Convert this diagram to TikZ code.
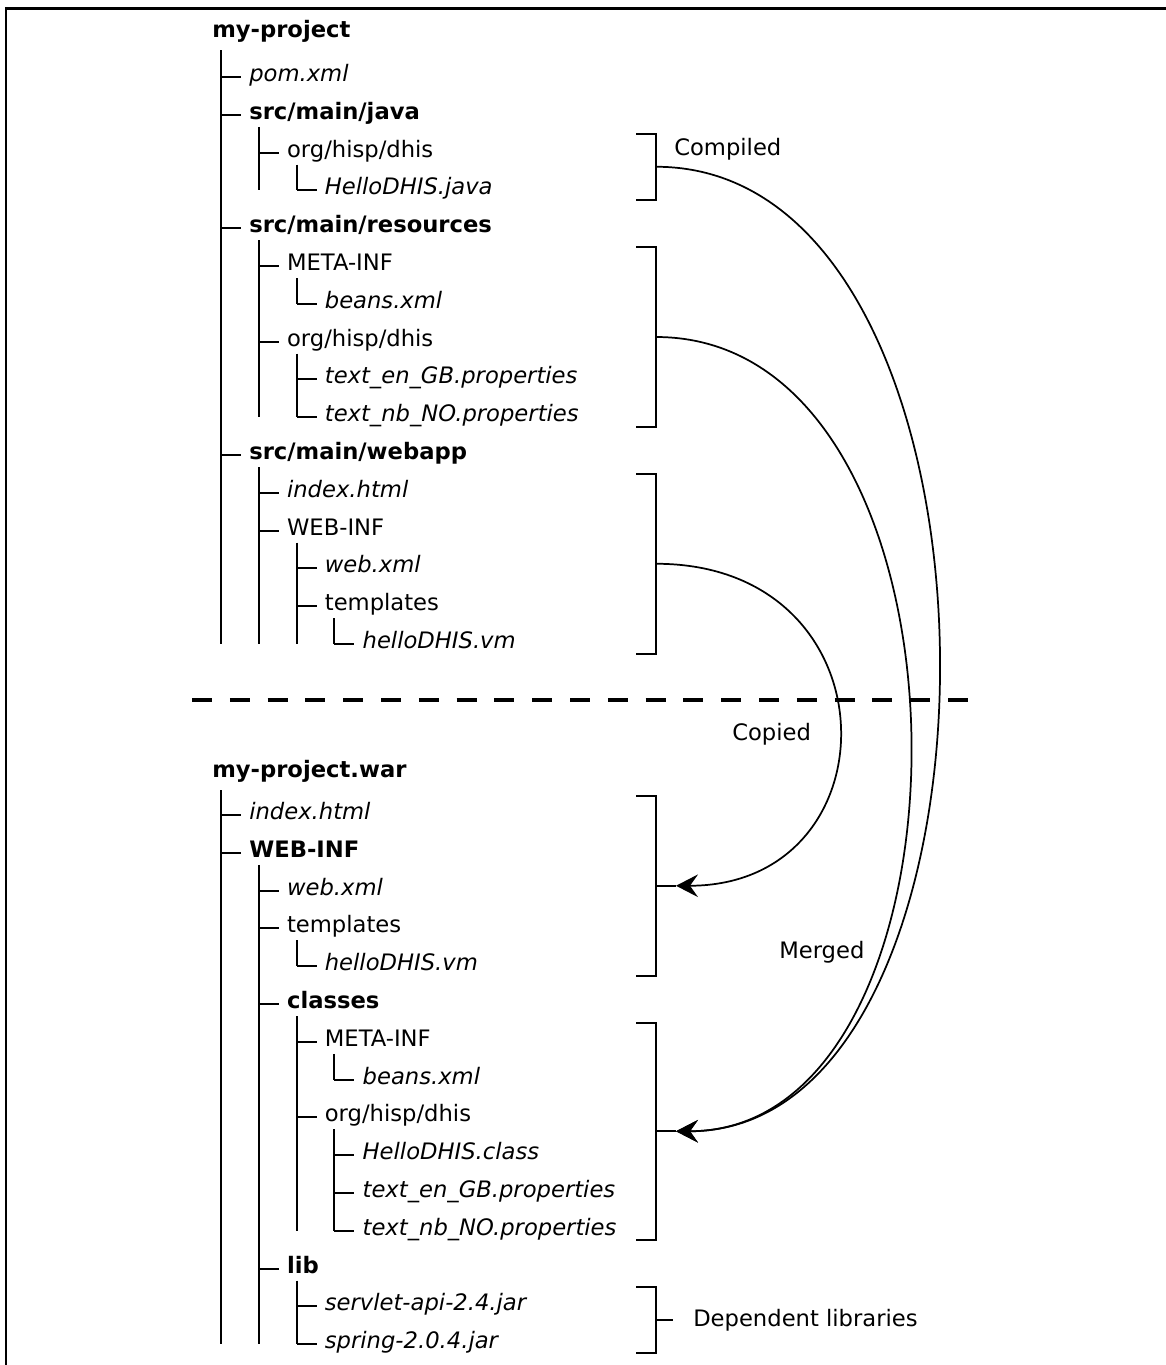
\documentclass[tikz,border=0pt]{standalone}
\usepackage{fontspec}
\setmainfont{DejaVu Sans}
\usetikzlibrary{arrows.meta}
\newcommand\myfs{\fontsize{17}{20}\selectfont}
\newcommand\ent[5]{%
 \node[#4] (#1) at ({211.2+37.8*#2},{#3+4.5}) {#5};
 \coordinate (#1k) at ({183.2+37.8*#2},#3);
 \coordinate (#1v) at ({221+37.8*#2},{#3+12});
 \draw[tree] (#1k) -- ++(20,0);
}
\newcommand\vln[2]{\draw[tree] (#1v) -- (#1v |- #2k);}
\newcommand\brk[3]{%
 \draw[tree] (636,#2) -- (656,#2) -- (656,#3) -- (636,#3);
 \coordinate (#1) at (656,{(#2+#3)/2});
}
\begin{document}
\begin{tikzpicture}[x=0.75pt,y=-0.75pt,
  tree/.style={line width=1.5pt},
  flow/.style={line width=1.3pt},
  txt/.style={anchor=base west, inner sep=0pt, font=\myfs},
  fil/.style={txt, font=\myfs\itshape},
  dirb/.style={txt, font=\myfs\bfseries},
  dir/.style={txt},
  tip/.style={-{Stealth[length=16.5pt,width=17pt,inset=6pt]}}]
\useasboundingbox (0,0) rectangle (1165,1365);
% frame
\coordinate (fbl) at (6,1370);
\coordinate (ftl) at (6,8.7);
\coordinate (ftr) at (1170,8.7);
\draw[line width=2pt] (fbl) -- (ftl) -- (ftr);

% ---------- source tree ----------
\node[dirb] (rt) at (212,37) {my-project};
\coordinate (rtv) at (221,50);
\ent{t0}{1}{77.0}{fil}{pom.xml}
\ent{t1}{1}{114.8}{dirb}{src/main/java}
\ent{t2}{2}{152.6}{dir}{org/hisp/dhis}
\ent{t3}{3}{190.4}{fil}{HelloDHIS.java}
\ent{t4}{1}{228.2}{dirb}{src/main/resources}
\ent{t5}{2}{266.0}{dir}{META-INF}
\ent{t6}{3}{303.8}{fil}{beans.xml}
\ent{t7}{2}{341.6}{dir}{org/hisp/dhis}
\ent{t8}{3}{379.4}{fil}{text\_en\_GB.properties}
\ent{t9}{3}{417.2}{fil}{text\_nb\_NO.properties}
\ent{t10}{1}{455.0}{dirb}{src/main/webapp}
\ent{t11}{2}{492.8}{fil}{index.html}
\ent{t12}{2}{530.6}{dir}{WEB-INF}
\ent{t13}{3}{568.4}{fil}{web.xml}
\ent{t14}{3}{606.2}{dir}{templates}
\ent{t15}{4}{644.0}{fil}{helloDHIS.vm}
\vln{rt}{t15}
\vln{t1}{t3}
\vln{t2}{t3}
\vln{t4}{t9}
\vln{t5}{t6}
\vln{t7}{t9}
\vln{t10}{t15}
\vln{t12}{t15}
\vln{t14}{t15}

% ---------- war tree ----------
\node[dirb] (rb) at (212,777) {my-project.war};
\coordinate (rbv) at (221,790);
\ent{b0}{1}{815.0}{fil}{index.html}
\ent{b1}{1}{852.8}{dirb}{WEB-INF}
\ent{b2}{2}{890.6}{fil}{web.xml}
\ent{b3}{2}{928.4}{dir}{templates}
\ent{b4}{3}{966.2}{fil}{helloDHIS.vm}
\ent{b5}{2}{1004.0}{dirb}{classes}
\ent{b6}{3}{1041.8}{dir}{META-INF}
\ent{b7}{4}{1079.6}{fil}{beans.xml}
\ent{b8}{3}{1117.4}{dir}{org/hisp/dhis}
\ent{b9}{4}{1155.2}{fil}{HelloDHIS.class}
\ent{b10}{4}{1193.0}{fil}{text\_en\_GB.properties}
\ent{b11}{4}{1230.8}{fil}{text\_nb\_NO.properties}
\ent{b12}{2}{1268.6}{dirb}{lib}
\ent{b13}{3}{1306.4}{fil}{servlet-api-2.4.jar}
\ent{b14}{3}{1344.2}{fil}{spring-2.0.4.jar}
\vln{rb}{b14}
\vln{b1}{b14}
\vln{b3}{b4}
\vln{b5}{b11}
\vln{b6}{b7}
\vln{b8}{b11}
\vln{b12}{b14}

% ---------- separator ----------
\coordinate (dl) at (192,700);
\coordinate (dr) at (968,700);
\draw[line width=3pt, dash pattern=on 15pt off 13.35pt] (dl) -- (dr);

% ---------- brackets ----------
\brk{cmp}{133.5}{200}
\brk{res}{247}{427}
\brk{web}{474}{653.5}
\brk{cpy}{796}{975.5}
\brk{mrg}{1022.5}{1240}
\brk{dep}{1287}{1353}
\coordinate (cpyT) at (676,885.75);
\coordinate (mrgT) at (676,1131.25);
\draw[tree] (cpy) -- (cpyT);
\draw[tree] (mrg) -- (mrgT);
\draw[tree] (dep) -- ++(17,0) coordinate (depE);

% ---------- flows ----------
\draw[flow,tip] (cmp) .. controls +(373,0) and +(353,0) .. (mrgT);
\draw[flow,tip] (res) .. controls +(335,0) and +(315,0) .. (mrgT);
\draw[flow,tip] (web) .. controls +(241,0) and +(221,0) .. (cpyT);

% ---------- labels ----------
\node[dir] (lcmp) at (674,155) {Compiled};
\node[dir] (lcpy) at (732,740) {Copied};
\node[dir] (lmrg) at (779,958) {Merged};
\node[dir] (ldep) at (693,1326) {Dependent libraries};
\end{tikzpicture}
\end{document}
